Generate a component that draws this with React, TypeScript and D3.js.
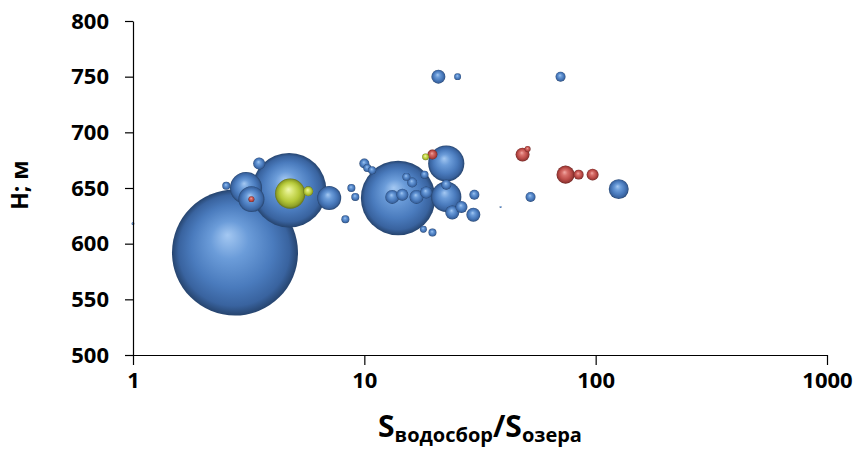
import React, { useEffect, useRef } from "react";
import * as d3 from "d3";

// [ratio S_catchment/S_lake, H (m), bubble size]
const blueLakes: [number, number, number][] = [
  [2.76, 592, 400],
  [4.73, 648, 140],
  [3.08, 650, 26],
  [3.25, 640, 17],
  [3.51, 672, 3.6],
  [2.53, 652, 1.6],
  [7.05, 641, 14.5],
  [8.28, 622, 1.6],
  [8.79, 650, 1.6],
  [9.14, 642, 1.6],
  [14.0, 641, 140],
  [22.6, 672, 33],
  [22.6, 642, 23],
  [13.2, 642, 4.9],
  [14.6, 644, 3.6],
  [15.2, 660, 1.6],
  [16.1, 655, 2.5],
  [16.8, 642, 4.9],
  [18.5, 646, 3.6],
  [18.2, 662, 1.6],
  [22.6, 653, 2.5],
  [10.0, 672, 2.5],
  [10.3, 668, 1.6],
  [10.8, 666, 1.6],
  [29.9, 644, 2.5],
  [24.0, 628, 4.9],
  [26.3, 633, 3.6],
  [29.6, 626, 4.9],
  [18.0, 613, 1.2],
  [19.7, 610, 1.6],
  [20.9, 750, 4.9],
  [25.3, 750, 1.2],
  [70.5, 750, 2.5],
  [125.8, 649, 10],
  [52.3, 642, 2.5],
  [38.8, 633, 0.1],
  [1.0, 618, 0.2],
];

const redLakes: [number, number, number][] = [
  [3.25, 640, 0.9],
  [19.7, 680, 2.5],
  [48.3, 680, 4.9],
  [50.8, 685, 0.9],
  [74.1, 662, 8.2],
  [84.4, 662, 2.5],
  [97.0, 662, 3.6],
];

const greenLakes: [number, number, number][] = [
  [4.78, 645, 23],
  [5.72, 647, 2.5],
  [18.4, 678, 1.2],
];

const xTicks = [1, 10, 100, 1000];
const yTicks = [500, 550, 600, 650, 700, 750, 800];

// gradient stops per series: highlight -> body -> rim
const seriesColors: Record<string, string[]> = {
  blue: ["#a4c8f2", "#6b9cd9", "#4a7bbd", "#39639f", "#26446e"],
  red: ["#f2aaa5", "#d8706b", "#bd4d49", "#983835", "#6a2220"],
  green: ["#f0f8b0", "#d6e46e", "#b5c838", "#90a228", "#63701a"],
};

export default function App() {
  const svgRef = useRef<SVGSVGElement>(null);

  useEffect(() => {
    const width = 859;
    const height = 462;
    const margin = { top: 21, right: 32, bottom: 107, left: 133 };

    const svg = d3.select(svgRef.current);
    svg.selectAll("*").remove();

    const x = d3
      .scaleLog()
      .domain([1, 1000])
      .range([margin.left, width - margin.right]);
    const y = d3
      .scaleLinear()
      .domain([500, 800])
      .range([height - margin.bottom, margin.top]);
    const r = d3.scaleSqrt().domain([0, 400]).range([0, 63]);

    const defs = svg.append("defs");
    Object.keys(seriesColors).forEach((name) => {
      const g = defs
        .append("radialGradient")
        .attr("id", "bub-" + name)
        .attr("cx", "50%")
        .attr("cy", "50%")
        .attr("r", "50%")
        .attr("fx", "44%")
        .attr("fy", "36%");
      const offs = [0, 0.3, 0.65, 0.88, 1];
      seriesColors[name].forEach((c, i) => {
        g.append("stop").attr("offset", offs[i]).attr("stop-color", c);
      });
    });

    // bubbles, big first so the small ones stay visible
    const all = [
      ...blueLakes.map((d) => ({ x: d[0], y: d[1], s: d[2], c: "blue" })),
      ...redLakes.map((d) => ({ x: d[0], y: d[1], s: d[2], c: "red" })),
      ...greenLakes.map((d) => ({ x: d[0], y: d[1], s: d[2], c: "green" })),
    ].sort((a, b) => b.s - a.s);

    svg
      .append("g")
      .selectAll("circle")
      .data(all)
      .enter()
      .append("circle")
      .attr("cx", (d) => x(d.x))
      .attr("cy", (d) => y(d.y))
      .attr("r", (d) => Math.max(r(d.s), 1))
      .attr("fill", (d) => `url(#bub-${d.c})`);

    const font = "'Open Sans', 'DejaVu Sans', sans-serif";

    const yAxis = svg
      .append("g")
      .attr("transform", `translate(${margin.left},0)`)
      .call(
        d3
          .axisLeft(y)
          .tickValues(yTicks)
          .tickSize(8)
          .tickSizeOuter(0)
          .tickPadding(16)
          .tickFormat(d3.format("d"))
      );

    const xAxis = svg
      .append("g")
      .attr("transform", `translate(0,${height - margin.bottom})`)
      .call(
        d3
          .axisBottom(x)
          .tickValues(xTicks)
          .tickSize(10)
          .tickSizeOuter(0)
          .tickPadding(7)
          .tickFormat(d3.format("d"))
      );

    [xAxis, yAxis].forEach((a) => {
      a.selectAll("path, line").attr("stroke", "#000").attr("stroke-width", 1.2);
      a.selectAll("text")
        .attr("fill", "#000")
        .style("font-family", font)
        .style("font-weight", "700")
        .style("font-size", "22px");
    });

    // y title
    svg
      .append("text")
      .attr("transform", "translate(28,185) rotate(-90)")
      .attr("text-anchor", "middle")
      .style("font-family", font)
      .style("font-weight", "700")
      .style("font-size", "23px")
      .text("H; м");

    // x title with subscripts
    const xt = svg
      .append("text")
      .attr("x", 480)
      .attr("y", 437)
      .attr("text-anchor", "middle")
      .style("font-family", font)
      .style("font-weight", "700");
    xt.append("tspan").style("font-size", "30px").text("S");
    xt.append("tspan").style("font-size", "20px").attr("dy", 5).text("водосбор");
    xt.append("tspan").style("font-size", "30px").attr("dy", -5).text("/S");
    xt.append("tspan").style("font-size", "20px").attr("dy", 5).text("озера");
  }, []);

  return (
    <svg
      ref={svgRef}
      width={859}
      height={462}
      style={{ position: "absolute", left: 0, top: 0, background: "#fff" }}
    ></svg>
  );
}
